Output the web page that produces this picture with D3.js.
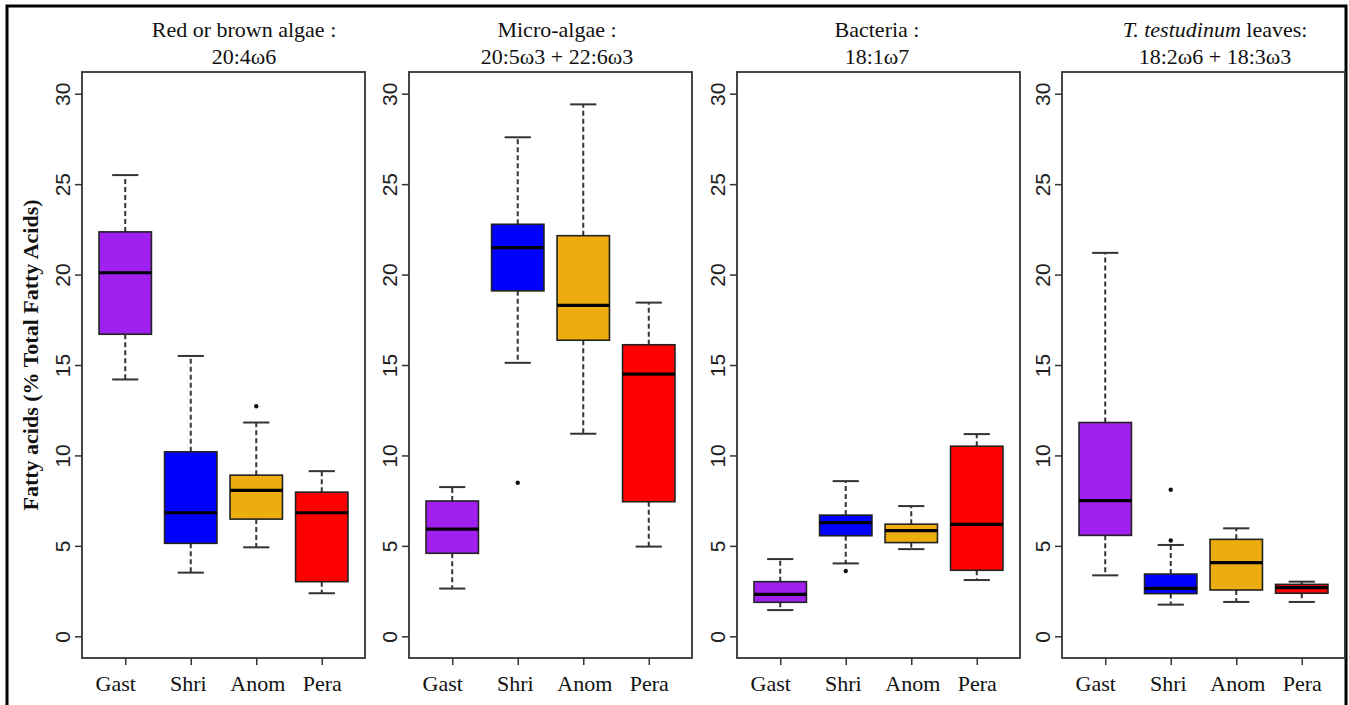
<!DOCTYPE html>
<html>
<head>
<meta charset="utf-8">
<script src="https://cdn.jsdelivr.net/npm/d3@7"></script>
<style>
  body { margin: 0; background: #fff; }
  svg { display: block; }
  .tick line { stroke: #333; stroke-width: 1.5; }
  .domain { display: none; }
</style>
</head>
<body>
<div id="chart"></div>
<script>
// Groups and fill colours
const groups = ['Gast', 'Shri', 'Anom', 'Pera'];
const fills = ['#A020F0', '#0000FF', '#EEAD0E', '#FF0000'];
const yTicks = [0, 5, 10, 15, 20, 25, 30];

// Panel titles (line 1, line 2)
const titles = [
  ['Red or brown algae  :', '20:4ω6'],
  ['Micro-algae  :', '20:5ω3 + 22:6ω3'],
  ['Bacteria  :', '18:1ω7'],
  ['T. testudinum leaves:', '18:2ω6 + 18:3ω3']
];

// Box stats per group: [lower whisker, Q1, median, Q3, upper whisker]
const redBrown = [[14.2, 16.7, 20.1, 22.36, 25.5], [3.52, 5.14, 6.83, 10.2, 15.5], [4.92, 6.48, 8.07, 8.91, 11.82], [2.38, 3.02, 6.83, 7.97, 9.13]];
const redBrownOut = [[], [], [12.72], []];

const microAlgae = [[2.64, 4.59, 5.93, 7.48, 8.25], [15.12, 19.1, 21.49, 22.78, 27.59], [11.2, 16.37, 18.3, 22.15, 29.41], [4.96, 7.44, 14.49, 16.12, 18.45]];
const microAlgaeOut = [[], [8.49], [], []];

const bacteria = [[1.45, 1.88, 2.32, 3.02, 4.27], [4.03, 5.56, 6.28, 6.7, 8.58], [4.82, 5.18, 5.84, 6.2, 7.2], [3.11, 3.65, 6.19, 10.51, 11.18]];
const bacteriaOut = [[], [3.61], [], []];

const leaves = [[3.37, 5.58, 7.5, 11.82, 21.2], [1.75, 2.36, 2.65, 3.44, 5.05], [1.9, 2.56, 4.07, 5.36, 5.97], [1.9, 2.38, 2.69, 2.87, 3.02]];
const leavesOut = [[], [8.1, 5.3], [], []];

const panels = [
  { stats: redBrown, out: redBrownOut },
  { stats: microAlgae, out: microAlgaeOut },
  { stats: bacteria, out: bacteriaOut },
  { stats: leaves, out: leavesOut }
];

// Layout
const width = 1349, height = 705;
const plotTop = 72, plotBottom = 658, plotW = 283;
const panelLeft = [82, 409, 737, 1062];
const titleX = [244, 557, 877, 1215];
const labelDx = [-10, -3, 1, 0];
const boxWex = 0.8;
const serif = '"Liberation Serif", "Times New Roman", serif';

const svg = d3.select('#chart').append('svg')
  .attr('width', width)
  .attr('height', height);

svg.append('rect')
  .attr('width', width).attr('height', height)
  .attr('fill', '#fff');

// Outer frame
svg.append('rect')
  .attr('x', 7).attr('y', 6)
  .attr('width', 1339).attr('height', 720)
  .attr('fill', 'none')
  .attr('stroke', '#000')
  .attr('stroke-width', 3);

panels.forEach((p, pi) => {
  const left = panelLeft[pi];
  const x = d3.scaleLinear().domain([0.34, 4.66]).range([left, left + plotW]);
  const y = d3.scaleLinear().domain([-1.2, 31.2]).range([plotBottom, plotTop]);
  const g = svg.append('g');
  const half = x(1 + boxWex / 2) - x(1);

  // Y axis, labels rotated along the axis
  const yAxis = g.append('g')
    .attr('transform', `translate(${left},0)`)
    .call(d3.axisLeft(y).tickValues(yTicks).tickSize(7).tickPadding(0));
  yAxis.selectAll('.tick text')
    .attr('transform', 'rotate(-90)')
    .attr('x', 0).attr('y', -12).attr('dy', 0)
    .style('text-anchor', 'middle')
    .style('font-family', '"Liberation Sans", Arial, sans-serif')
    .style('font-size', '21px')
    .style('fill', '#222');

  // X axis
  const xAxis = g.append('g')
    .attr('transform', `translate(0,${plotBottom})`)
    .call(d3.axisBottom(x).tickValues([1, 2, 3, 4]).tickFormat(i => groups[i - 1]).tickSize(7).tickPadding(6));
  xAxis.selectAll('text')
    .attr('dx', (d, i) => labelDx[i])
    .attr('dy', '0.9em')
    .style('font-family', serif)
    .style('font-size', '22px')
    .style('fill', '#111');

  // Plot box
  g.append('rect')
    .attr('x', left).attr('y', plotTop)
    .attr('width', plotW).attr('height', plotBottom - plotTop)
    .attr('fill', 'none')
    .attr('stroke', '#333')
    .attr('stroke-width', 1.8);

  // Title
  const t = g.append('text')
    .attr('x', titleX[pi])
    .attr('text-anchor', 'middle')
    .style('font-family', serif)
    .style('font-size', '22px')
    .style('fill', '#111');
  if (pi === 3) {
    const l1 = t.append('tspan').attr('x', titleX[pi]).attr('y', 37);
    l1.append('tspan').style('font-style', 'italic').text('T. testudinum');
    l1.append('tspan').text(' leaves:');
  } else {
    t.append('tspan').attr('x', titleX[pi]).attr('y', 37).text(titles[pi][0]);
  }
  t.append('tspan').attr('x', titleX[pi]).attr('y', 64).text(titles[pi][1]);

  // Boxes
  const box = g.selectAll('.bx').data(p.stats).enter().append('g').attr('class', 'bx');
  const cx = (d, i) => x(i + 1);

  // whiskers (dashed)
  box.append('line')
    .attr('x1', cx).attr('x2', cx)
    .attr('y1', d => y(d[3])).attr('y2', d => y(d[4]))
    .attr('stroke', '#333').attr('stroke-width', 2).attr('stroke-dasharray', '5,3');
  box.append('line')
    .attr('x1', cx).attr('x2', cx)
    .attr('y1', d => y(d[1])).attr('y2', d => y(d[0]))
    .attr('stroke', '#333').attr('stroke-width', 2).attr('stroke-dasharray', '5,3');
  // caps
  [0, 4].forEach(k => {
    box.append('line')
      .attr('x1', (d, i) => cx(d, i) - half / 2).attr('x2', (d, i) => cx(d, i) + half / 2)
      .attr('y1', d => y(d[k])).attr('y2', d => y(d[k]))
      .attr('stroke', '#333').attr('stroke-width', 2);
  });
  // box body
  box.append('rect')
    .attr('x', (d, i) => cx(d, i) - half)
    .attr('width', half * 2)
    .attr('y', d => y(d[3]))
    .attr('height', d => y(d[1]) - y(d[3]))
    .attr('fill', (d, i) => fills[i])
    .attr('stroke', '#222').attr('stroke-width', 1.6);
  // median
  box.append('line')
    .attr('x1', (d, i) => cx(d, i) - half).attr('x2', (d, i) => cx(d, i) + half)
    .attr('y1', d => y(d[2])).attr('y2', d => y(d[2]))
    .attr('stroke', '#000').attr('stroke-width', 3.2);

  // outliers
  p.out.forEach((vals, i) => {
    g.selectAll(null).data(vals).enter().append('circle')
      .attr('cx', x(i + 1)).attr('cy', d => y(d))
      .attr('r', 2.2).attr('fill', '#111');
  });
});

// Y axis label
svg.append('text')
  .attr('transform', 'translate(38,355) rotate(-90)')
  .attr('text-anchor', 'middle')
  .style('font-family', serif)
  .style('font-weight', 'bold')
  .style('font-size', '22px')
  .style('fill', '#111')
  .text('Fatty acids (% Total  Fatty Acids)');
</script>
</body>
</html>
